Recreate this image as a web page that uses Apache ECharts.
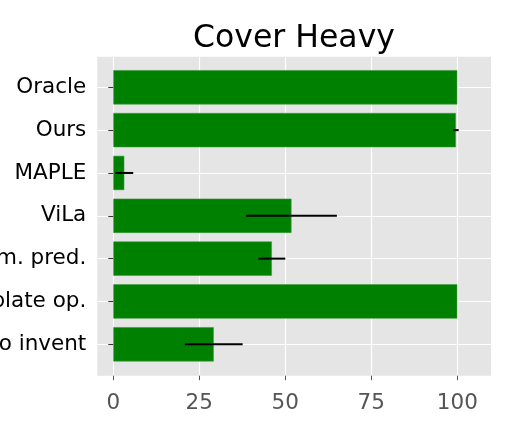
<!DOCTYPE html>
<html>
<head>
<meta charset="utf-8">
<script src="https://cdn.jsdelivr.net/npm/echarts@6/dist/echarts.min.js"></script>
<style>
html,body{margin:0;padding:0;background:#fff;}
#chart{width:516px;height:431px;}
</style>
</head>
<body>
<div id="chart"></div>
<script>
const categories = ['Oracle', 'Ours', 'MAPLE', 'ViLa', 'Sym. pred.', 'Template op.', 'No invent'];
const means = [100, 99.6, 3.2, 51.8, 46.1, 100, 29.2];
const errors = [0, 0.8, 2.6, 13.2, 3.9, 0, 8.4];
const xTicks = [0, 25, 50, 75, 100];
const titleText = 'Cover Heavy';

const FONT = 'DejaVu Sans';
const xMin = -4.65, xMax = 109.8;

const errData = [];
means.forEach((m, i) => {
  if (errors[i] > 0) errData.push([m - errors[i], m + errors[i], i]);
});

const chart = echarts.init(document.getElementById('chart'), null, {renderer: 'canvas'});
chart.setOption({
  animation: false,
  backgroundColor: '#ffffff',
  title: {
    text: titleText,
    left: 289,
    textAlign: 'center',
    top: 18,
    textStyle: {fontFamily: FONT, fontSize: 31.5, fontWeight: 'normal', color: '#000'}
  },
  grid: [
    {left: 97.3, top: 56.7, width: 393.7, height: 319, show: true, backgroundColor: '#E5E5E5', borderWidth: 0, containLabel: false, outerBoundsMode: 'none'},
    {left: 97.3, top: 87.3, width: 393.7, height: 257, show: false, containLabel: false, outerBoundsMode: 'none'}
  ],
  xAxis: [
    {
      gridIndex: 0, type: 'value', min: xMin, max: xMax,
      axisLine: {show: false},
      axisTick: {show: true, length: 4.5, lineStyle: {color: '#555', width: 1}, customValues: xTicks},
      axisLabel: {show: true, color: '#555', fontFamily: FONT, fontSize: 21.5, margin: 17, customValues: xTicks},
      splitLine: {show: true, lineStyle: {color: '#ffffff', width: 1.2}}
    },
    {
      gridIndex: 1, type: 'value', min: xMin, max: xMax, show: false
    }
  ],
  yAxis: [
    {gridIndex: 0, type: 'value', show: false, min: 0, max: 1},
    {
      gridIndex: 1, type: 'category', data: categories, inverse: true, boundaryGap: false,
      axisLine: {show: false},
      axisTick: {show: true, length: 5, lineStyle: {color: '#333', width: 1}},
      axisLabel: {color: '#000', fontFamily: FONT, fontSize: 21.5, margin: 11, padding: [4, 0, 0, 0]},
      splitLine: {show: true, lineStyle: {color: '#ffffff', width: 1.2}}
    }
  ],
  series: [
    {
      type: 'bar', xAxisIndex: 1, yAxisIndex: 1, data: means,
      barWidth: 34.3, clip: false,
      itemStyle: {color: '#008000', borderColor: '#3a9a3a', borderWidth: 0.6}
    },
    {
      type: 'custom', xAxisIndex: 1, yAxisIndex: 1, data: errData, clip: false, z: 5,
      renderItem: function (params, api) {
        const a = api.coord([api.value(0), api.value(2)]);
        const b = api.coord([api.value(1), api.value(2)]);
        return {
          type: 'line',
          shape: {x1: a[0], y1: a[1], x2: b[0], y2: b[1]},
          style: {stroke: '#000', lineWidth: 2}
        };
      }
    }
  ]
});
</script>
</body>
</html>
